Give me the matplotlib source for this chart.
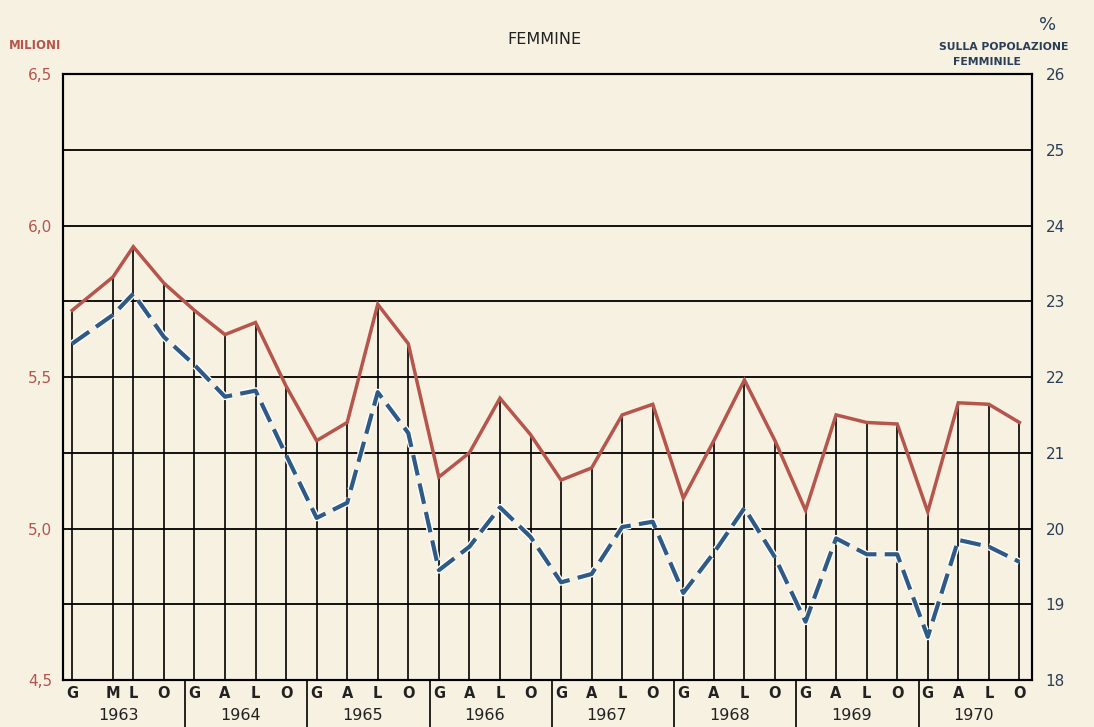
import matplotlib.pyplot as plt
import matplotlib.patheffects as pe
from matplotlib.transforms import blended_transform_factory

# dati (femmine in cerca di occupazione)
anni = [1963, 1964, 1965, 1966, 1967, 1968, 1969, 1970]
mesi = [['G', 'M', 'L', 'O']] + [['G', 'A', 'L', 'O']] * 7
pos_mese = {'G': 0, 'A': 3, 'M': 4, 'L': 6, 'O': 9}

milioni = [5.72, 5.83, 5.93, 5.81,
           5.72, 5.64, 5.68, 5.47,
           5.29, 5.35, 5.74, 5.61,
           5.17, 5.25, 5.43, 5.31,
           5.16, 5.20, 5.375, 5.41,
           5.10, 5.29, 5.49, 5.29,
           5.06, 5.375, 5.35, 5.345,
           5.055, 5.415, 5.41, 5.35]

percentuale = [22.44, 22.82, 23.10, 22.53,
               22.16, 21.74, 21.82, 20.97,
               20.14, 20.34, 21.80, 21.26,
               19.45, 19.76, 20.28, 19.89,
               19.29, 19.40, 20.02, 20.09,
               19.15, 19.68, 20.27, 19.62,
               18.77, 19.87, 19.66, 19.66,
               18.57, 19.85, 19.76, 19.56]

x = []
etichette = []
for i, anno in enumerate(anni):
    for m in mesi[i]:
        x.append(i * 12 + pos_mese[m])
        etichette.append(m)

sfondo = '#f7f1e2'
rosso = '#b5554c'
blu = '#2f5a86'
scuro = '#2a3f57'

fig = plt.figure(figsize=(10.94, 7.27), dpi=100, facecolor=sfondo)
ax = fig.add_axes([0.0576, 0.0646, 0.8854, 0.8336])
ax.set_facecolor(sfondo)
ax.set_xlim(-0.9, 94.2)
ax.set_ylim(4.5, 6.5)

# griglia orizzontale e linee verticali fino alla curva superiore
for v in [4.75, 5.0, 5.25, 5.5, 5.75, 6.0, 6.25]:
    ax.axhline(v, color='black', lw=1.3, zorder=1)
ax.vlines(x, 4.5, milioni, color='black', lw=1.2, zorder=1)

ax.plot(x, milioni, color=rosso, lw=2.5, zorder=3, solid_joinstyle='miter')

ax2 = ax.twinx()
ax2.set_ylim(18, 26)
ax2.plot(x, percentuale, color=blu, lw=3, dashes=(5, 2), zorder=4,
         path_effects=[pe.Stroke(linewidth=5, foreground='white'), pe.Normal()])

for a in (ax, ax2):
    for s in a.spines.values():
        s.set_linewidth(1.5)
        s.set_color('black')

ax.set_xticks([])
ax.set_yticks([4.5, 5.0, 5.5, 6.0, 6.5])
ax.set_yticklabels(['4,5', '5,0', '5,5', '6,0', '6,5'])
ax.tick_params(axis='y', length=0, pad=8, labelsize=11, labelcolor=rosso)
ax2.set_yticks(range(18, 27))
ax2.tick_params(axis='y', length=0, pad=10, labelsize=11, labelcolor=scuro)

# etichette dei mesi e degli anni sotto l'asse
tr = blended_transform_factory(ax.transData, ax.transAxes)
for xi, lab in zip(x, etichette):
    ax.text(xi, -0.022, lab, transform=tr, ha='center', va='center',
            fontsize=10.5, fontweight='bold', color='#222222')
for i, anno in enumerate(anni):
    ax.text(i * 12 + 4.5, -0.058, str(anno), transform=tr, ha='center', va='center',
            fontsize=11.5, color='#222222')
    if i > 0:
        ax.plot([i * 12 - 0.9, i * 12 - 0.9], [0, -0.085], transform=tr,
                color='black', lw=1.2, clip_on=False)

fig.text(0.498, 0.945, 'FEMMINE', ha='center', va='center', fontsize=11.5, color='#222222')
fig.text(0.008, 0.937, 'MILIONI', ha='left', va='center', fontsize=8.5,
         fontweight='bold', color=rosso)
fig.text(0.958, 0.966, '%', ha='center', va='center', fontsize=13, color=scuro)
fig.text(0.917, 0.935, 'SULLA POPOLAZIONE', ha='center', va='center', fontsize=7.8,
         fontweight='bold', color=scuro)
fig.text(0.902, 0.915, 'FEMMINILE', ha='center', va='center', fontsize=7.8,
         fontweight='bold', color=scuro)

fig.savefig('out.png', dpi=100, facecolor=sfondo)
